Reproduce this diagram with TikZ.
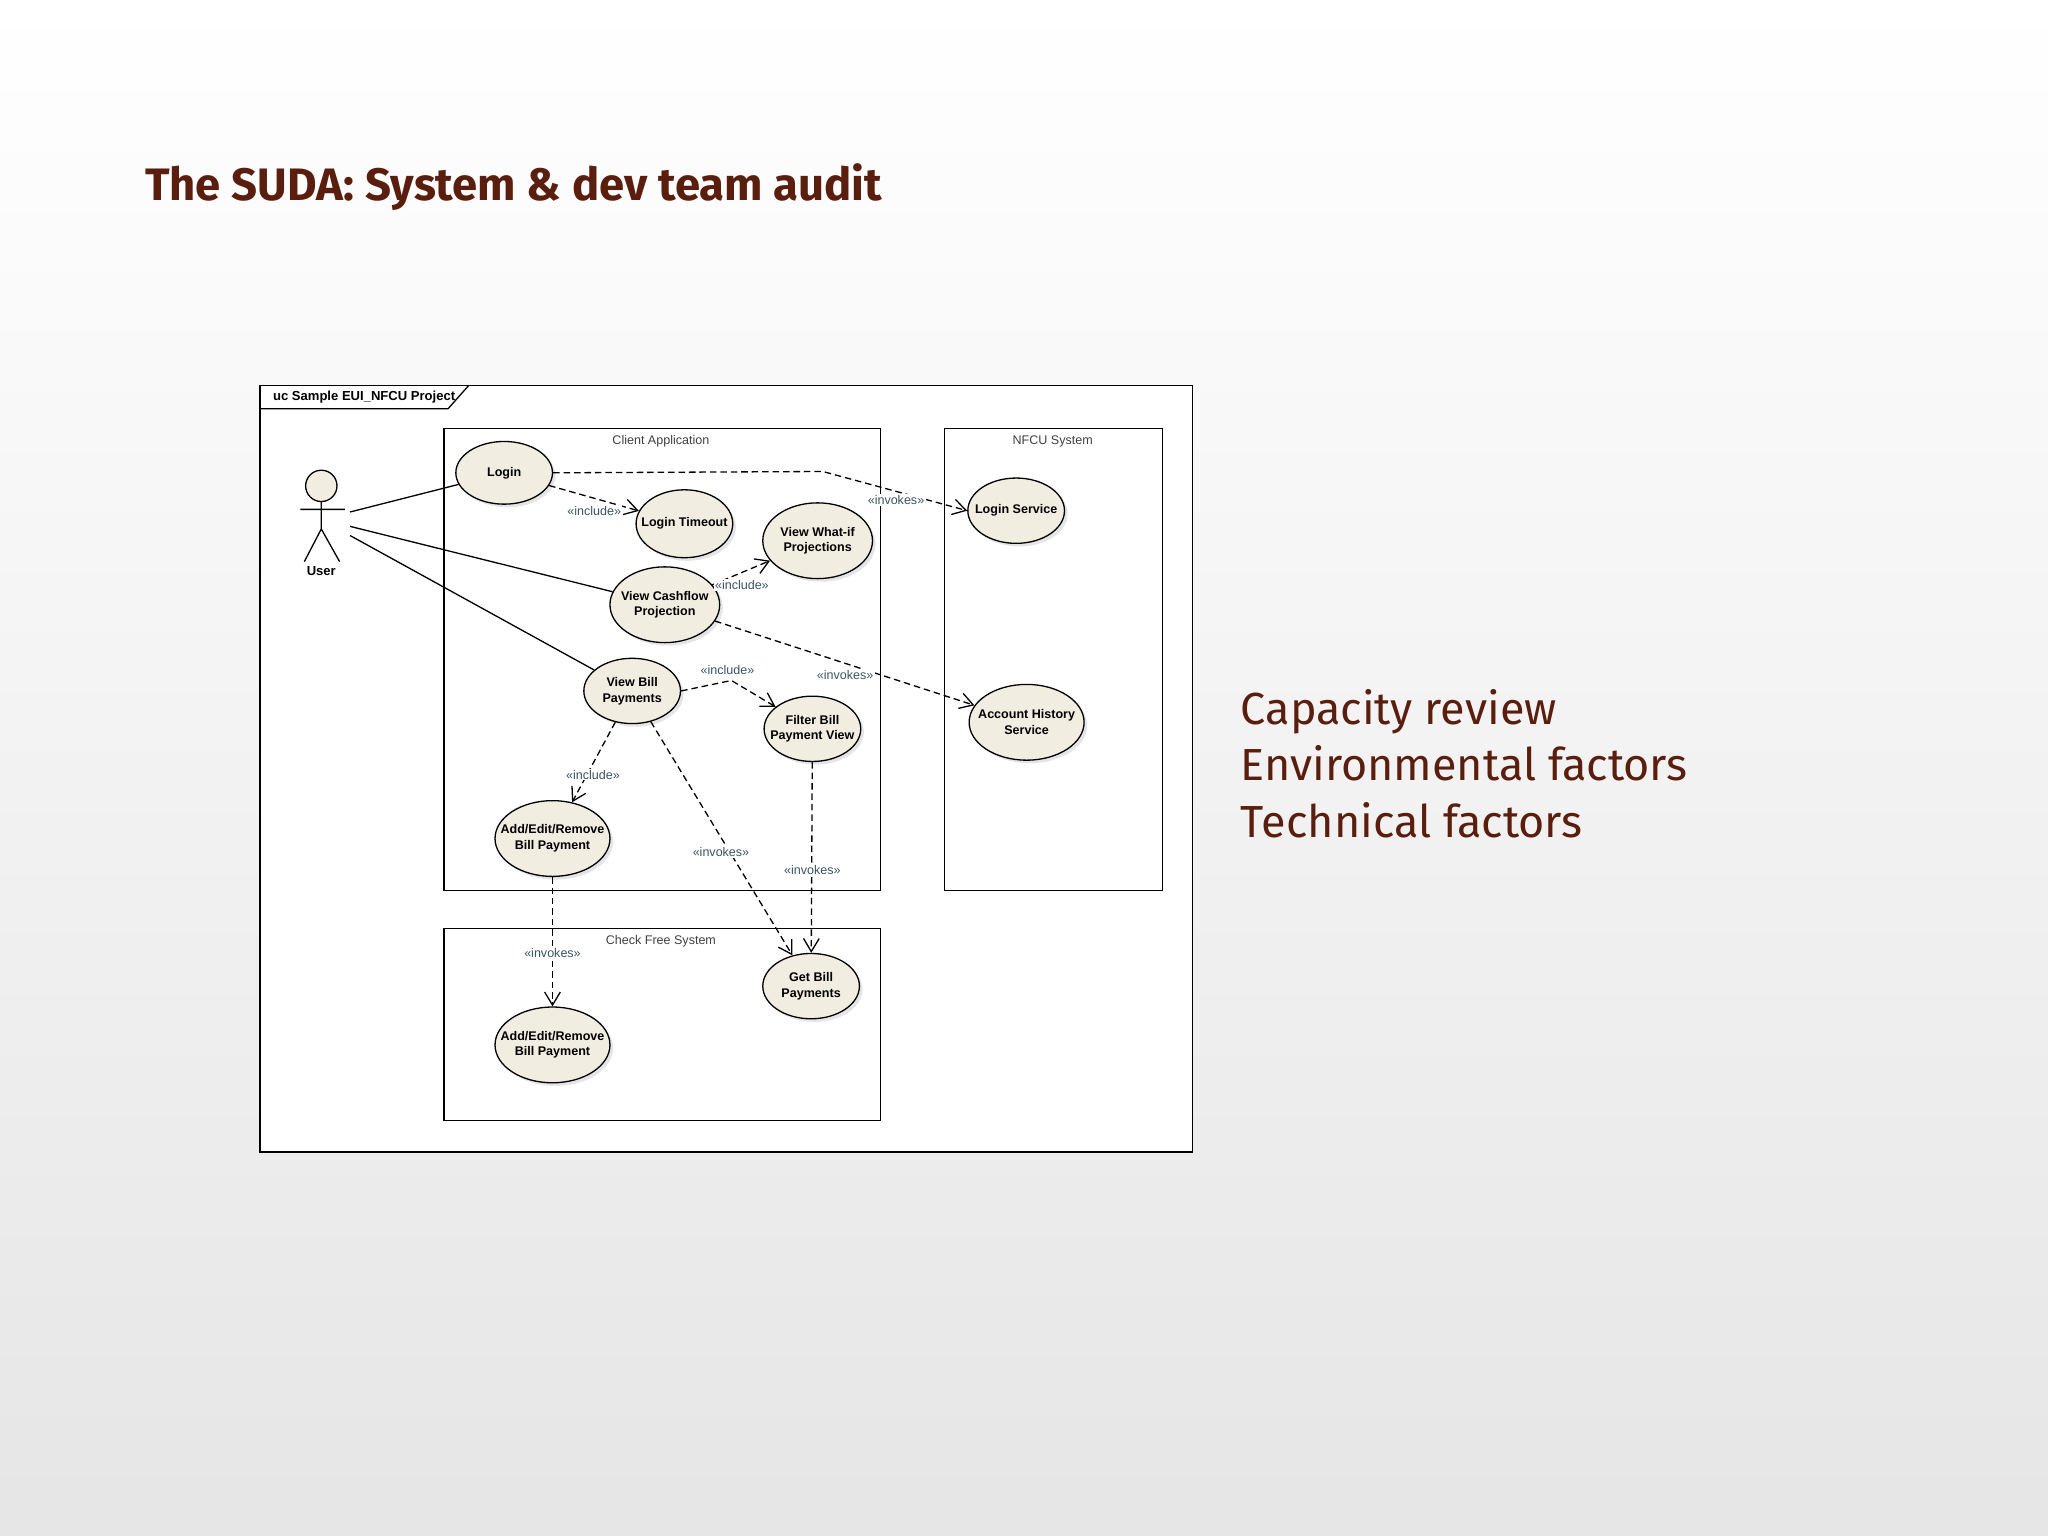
\documentclass[tikz,border=0pt]{standalone}
\usepackage{fontspec}
\setmainfont{Liberation Sans}
\newfontfamily\titlefont{Fira Sans}
\usetikzlibrary{arrows.meta,shapes.geometric,shadows}
\definecolor{brn}{HTML}{5A1E0E}
\definecolor{uc}{HTML}{F2EDE1}
\definecolor{lbl}{HTML}{3A5560}
\begin{document}
\begin{tikzpicture}[x=0.5pt,y=-0.5pt,
  usecase/.style={ellipse,draw,line width=0.5pt,fill=uc,inner xsep=-5pt,inner ysep=-1pt,align=center,
    font=\fontsize{4.8}{6}\selectfont\bfseries,drop shadow={shadow xshift=1.2pt,shadow yshift=-1.2pt,fill=gray!40}},
  sysbox/.style={draw,line width=0.5pt},
  syslbl/.style={font=\fontsize{4.8}{6}\selectfont,text=black!75},
  assoc/.style={line width=0.5pt},
  dep/.style={dashed,dash pattern=on 2.5pt off 1.5pt,line width=0.5pt,-{Straight Barb[length=5pt,width=6pt]}},
  stereo/.style={font=\fontsize{4.8}{6}\selectfont,text=lbl,fill=white,inner sep=0.5pt}]
\shade[top color=white,bottom color=black!10] (0,0) rectangle (1568,1176);
\useasboundingbox (0,0) rectangle (1568,1176);
\node[anchor=west,font=\titlefont\bfseries\fontsize{17.4}{20}\selectfont,text=brn] (title) at (104,143) {The SUDA: System \& dev team audit};
\node[anchor=north west,align=left,font=\titlefont\fontsize{17.2}{21.5}\selectfont,text=brn] (bul) at (943,521) {Capacity review\\Environmental factors\\Technical factors};
% frame
\draw[fill=white,line width=0.5pt] (199,295) rectangle (913,882);
\draw[line width=0.5pt] (199,313) -- (343,313) -- (359,295);
\node[anchor=west,font=\fontsize{5}{6}\selectfont\bfseries] (ftab) at (202,304) {uc Sample EUI\_NFCU Project};
% system boxes
\draw[sysbox] (340,328) rectangle (674,682);
\node[syslbl] (clab) at (506,338) {Client Application};
\draw[sysbox] (723,328) rectangle (890,682);
\node[syslbl] (nlab) at (806,338) {NFCU System};
\draw[sysbox] (340,711) rectangle (674,858);
\node[syslbl] (chlab) at (506,721) {Check Free System};
% actor
\draw[fill=uc,line width=0.5pt] (246,372) circle (6pt);
\draw[line width=0.5pt] (246,384) -- (246,405) (230,390) -- (264,390) (233,430) -- (246,405) -- (260,430);
\node[font=\fontsize{5}{6}\selectfont\bfseries] (user) at (246,437) {User};
\coordinate (u1) at (268,392);
\coordinate (u2) at (268,403);
\coordinate (u3) at (268,410);
% use cases
\node[usecase,minimum width=37pt,minimum height=24pt] (login) at (386,362) {Login};
\node[usecase,minimum width=37pt,minimum height=26pt] (lto) at (524,401) {Login Timeout};
\node[usecase,minimum width=42pt,minimum height=29pt] (whatif) at (626,414) {View What-if\\Projections};
\node[usecase,minimum width=42pt,minimum height=29pt] (cash) at (509,463) {View Cashflow\\Projection};
\node[usecase,minimum width=37pt,minimum height=25pt] (vbill) at (484,529) {View Bill\\Payments};
\node[usecase,minimum width=37pt,minimum height=25pt] (filter) at (622,558) {Filter Bill\\Payment View};
\node[usecase,minimum width=44pt,minimum height=29pt] (aer) at (423,642) {Add/Edit/Remove\\Bill Payment};
\node[usecase,minimum width=37pt,minimum height=25pt] (lsvc) at (778,391) {Login Service};
\node[usecase,minimum width=44pt,minimum height=29pt] (ahs) at (786,553) {Account History\\Service};
\node[usecase,minimum width=37pt,minimum height=25pt] (gbp) at (621,755) {Get Bill\\Payments};
\node[usecase,minimum width=44pt,minimum height=29pt] (aer2) at (423,800) {Add/Edit/Remove\\Bill Payment};
% associations
\draw[assoc] (u1) -- (login);
\draw[assoc] (u2) -- (cash);
\draw[assoc] (u3) -- (vbill);
% dependencies
\coordinate (k1) at (630,361);
\draw[dep] (login.east) -- (k1) -- (lsvc.west);
\node[stereo] (s1) at (686,383) {«invokes»};
\draw[dep] (login) -- (lto);
\node[stereo] (s2) at (455,391) {«include»};
\draw[dep] (cash) -- (whatif);
\node[stereo] (s3) at (568,448) {«include»};
\draw[dep] (cash) -- (ahs);
\node[stereo] (s4) at (647,517) {«invokes»};
\coordinate (k2) at (560,521);
\draw[dep] (vbill.east) -- (k2) -- (filter);
\node[stereo,fill=none] (s5) at (557,513) {«include»};
\draw[dep] (vbill) -- (aer);
\node[stereo] (s6) at (454,593) {«include»};
\draw[dep] (vbill) -- (gbp);
\node[stereo] (s7) at (552,652) {«invokes»};
\draw[dep] (filter) -- (gbp);
\node[stereo] (s8) at (622,666) {«invokes»};
\draw[dep] (aer) -- (aer2);
\node[stereo] (s9) at (423,730) {«invokes»};
\end{tikzpicture}
\end{document}
